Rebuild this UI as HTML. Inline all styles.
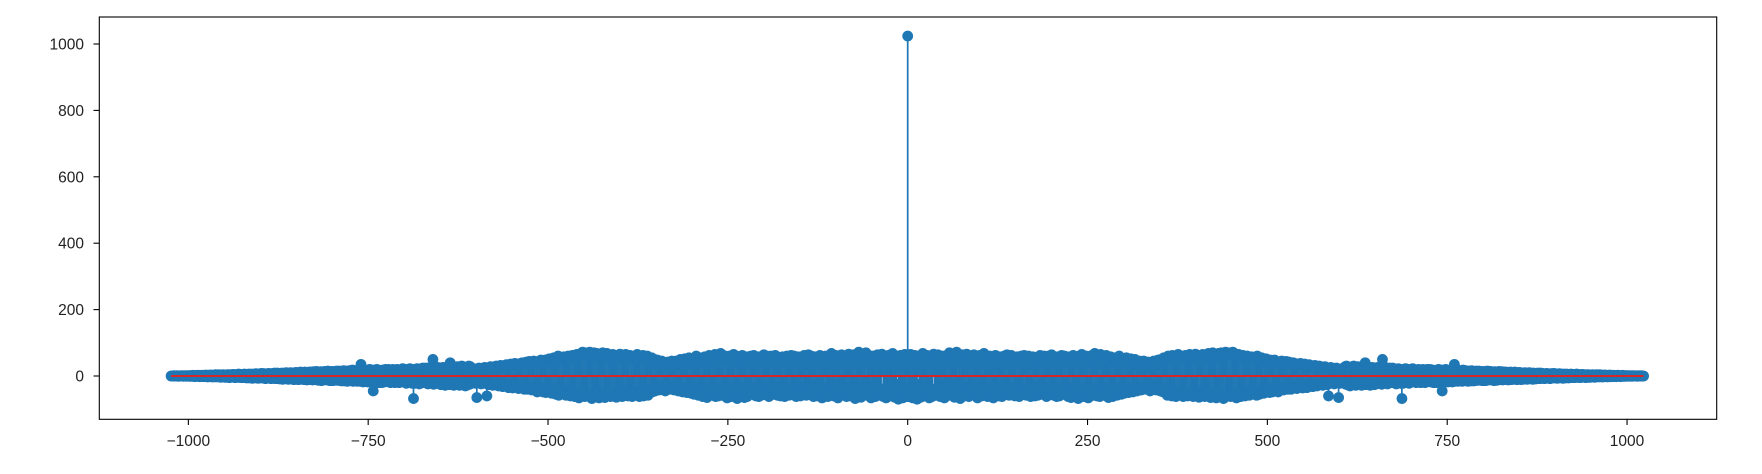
<!DOCTYPE html>
<html><head><meta charset="utf-8">
<style>
html,body{margin:0;padding:0;background:#fff;}
svg{display:block;font-family:"Liberation Sans","DejaVu Sans",sans-serif;}
</style></head>
<body>
<svg id="chart" width="1762" height="474" viewBox="0 0 1762 474" xmlns="http://www.w3.org/2000/svg">
<rect x="0" y="0" width="1762" height="474" fill="#fff"/>
<g id="stems"></g>
<g id="markers"></g>
<g id="baseline-g"></g>
<rect x="99.3" y="17" width="1617.4" height="402.3" fill="none" stroke="#000" stroke-width="1.1"/>
<g id="xaxis"></g>
<g id="yaxis"></g>
</svg>
<script>
// positive-side magnitudes k = 0..1023 (spectrum is mirrored for negative k)
const posValues = [
1024,-62,58,-40,65,-55,30,-66,48,-20,62,-58,45,-70,25,60,-35,55,-64,40,-50,68,-30,52,-60,35,-45,62,-25,58,-66,40,
-55,48,-62,30,66,-40,55,-58,20,-50,64,-35,58,-62,42,-28,60,-50,36,-66,52,-44,62,-30,48,-58,70,-40,56,-22,60,-52,
38,-64,55,-45,72,-30,60,-55,42,-68,50,-25,64,-48,35,-60,58,-40,66,-52,30,-62,45,-36,60,-55,48,-30,64,-50,40,-58,
52,-66,35,-48,62,-28,55,-60,40,-52,68,-35,58,-45,30,-62,50,-40,60,-55,25,-58,48,-66,36,-50,62,-30,55,-45,40,-60,
58,-35,50,-62,42,-28,60,-48,36,-55,64,-40,52,-58,30,-50,62,-42,55,-35,48,-60,40,-52,58,-30,45,-62,50,-38,60,-45,
35,-55,62,-40,48,-58,30,-50,60,-45,38,-62,52,-35,58,-48,42,-60,55,-30,50,-58,36,-45,62,-52,40,-55,48,-38,60,-50,
45,-62,38,-55,60,-42,52,-30,64,-50,40,-58,55,-35,48,-62,58,-45,35,-60,50,-40,62,-55,42,-48,60,-36,55,-50,45,-62,
58,-40,50,-65,42,-55,62,-35,48,-60,55,-45,38,-68,60,-50,45,-58,65,-40,52,-62,36,-55,60,-48,42,-66,58,-35,50,-60,
62,-45,55,-38,68,-52,40,-60,58,-48,35,-62,65,-42,50,-58,60,-36,48,-55,62,-40,52,-65,45,-50,58,-38,55,-62,42,-48,
55,-40,48,-58,35,-50,60,-45,38,-55,50,-30,45,-52,40,-48,55,-35,42,-50,30,-45,52,-38,40,-48,35,-42,50,-30,38,-45,
30,-40,45,-35,28,-42,38,-30,45,-36,25,-40,35,-28,42,-38,30,-45,36,-32,40,-28,45,-35,38,-42,30,-36,48,-40,35,-45,
50,-38,42,-48,55,-40,48,-52,45,-58,60,-42,52,-55,48,-60,62,-45,55,-50,58,-62,48,-55,65,-50,58,-48,60,-55,52,-62,
58,-50,62,-55,48,-60,55,-52,65,-45,58,-60,50,-62,55,-48,66,-55,60,-50,58,-64,52,-58,62,-48,65,-55,58,-62,50,-60,
62,-55,68,-50,60,-65,55,-58,70,-52,62,-60,55,-66,65,-50,68,-62,58,-55,70,-60,62,-68,55,-58,72,-62,65,-55,68,-60,
70,-62,65,-58,72,-60,68,-55,62,-66,58,-60,65,-52,60,-62,55,-58,62,-50,58,-60,52,-55,60,-48,55,-58,50,-52,58,-45,
55,-50,52,-55,48,-58,60,-45,52,-55,48,-50,55,-42,50,-52,45,-48,52,-40,50,-45,42,-50,48,-38,45,-48,40,-42,48,-36,
45,-42,40,-48,38,-44,42,-35,45,-40,36,-42,40,-32,44,-38,35,-40,42,-30,38,-40,35,-36,40,-28,38,-35,32,-38,36,-30,
35,-32,38,-30,34,-36,30,-34,36,-28,32,-35,30,-30,34,-26,32,-30,28,-32,30,-25,32,-28,26,-30,28,-24,30,-26,28,-25,
26,-28,24,-26,28,-22,25,-26,22,-60,24,-22,26,-20,24,-22,20,-24,22,-18,24,-20,22,-65,20,-22,18,-20,22,-18,20,-22,
28,-25,30,-22,26,-28,24,-30,22,-26,28,-24,30,-20,26,-28,24,-22,28,-26,20,-24,26,-28,22,-25,28,-20,40,-26,24,-22,
26,-24,22,-28,25,-20,26,-24,22,-26,20,-24,25,-22,26,-20,24,-22,20,-25,50,-22,24,-20,26,-22,20,-24,22,-18,24,-20,
22,-20,24,-18,22,-20,18,-24,20,-18,22,-20,18,-22,20,-68,18,-22,20,-18,22,-20,18,-16,20,-22,18,-16,20,-18,22,-16,
20,-18,16,-20,18,-16,20,-18,16,-20,18,-15,20,-16,18,-20,15,-18,20,-16,18,-15,20,-18,16,-15,18,-20,16,-18,15,-20,
18,-16,20,-15,18,-18,16,-45,18,-15,16,-18,20,-16,15,-18,16,-14,18,-16,15,-18,16,-14,35,-16,15,-14,18,-16,14,-15,
16,-14,15,-16,18,-14,15,-13,16,-15,14,-16,15,-13,14,-15,16,-12,14,-15,13,-14,15,-12,14,-13,15,-12,14,-13,12,-14,
14,-12,13,-14,12,-13,15,-12,13,-11,14,-12,13,-11,12,-14,13,-11,12,-13,11,-12,14,-11,12,-10,13,-12,11,-10,12,-11,
12,-11,10,-12,11,-10,12,-11,10,-9,11,-10,12,-9,10,-11,9,-10,11,-9,10,-11,9,-10,8,-9,10,-8,9,-10,8,-9,
10,-8,9,-9,8,-10,9,-8,7,-9,8,-7,9,-8,7,-8,9,-7,8,-6,7,-8,6,-7,8,-6,7,-7,6,-8,7,-6,
7,-6,8,-6,7,-5,6,-7,5,-6,7,-5,6,-6,5,-7,6,-5,5,-6,6,-5,4,-6,5,-5,6,-4,5,-5,4,-5,
5,-4,6,-4,5,-4,4,-5,4,-4,5,-3,4,-4,3,-5,4,-3,4,-4,3,-4,3,-3,4,-3,3,-4,3,-3,4,-2,
3,-3,4,-2,3,-3,2,-3,3,-2,3,-2,2,-3,2,-2,3,-2,2,-2,2,-1,2,-2,1,-2,2,-1,2,-1,1,-2,
1,-1,2,-1,1,-1,1,-1,1,0,1,-1,0,1,0,-1,1,0,0,1,0,0,-1,0,1,0,0,0,1,0,0,0
];
const xTicks = [-1000,-750,-500,-250,0,250,500,750,1000];
const xTickLabels = ["\u22121000","\u2212750","\u2212500","\u2212250","0","250","500","750","1000"];
const yTicks = [0,200,400,600,800,1000];
const yTickLabels = ["0","200","400","600","800","1000"];

// build full series from -1024..1023
const xs = [], ys = [];
for (let k = -1024; k <= 1023; k++) {
  xs.push(k);
  const a = Math.abs(k);
  ys.push(a <= 1023 ? posValues[a] : 0);
}

const X0 = 907.7, XS = 0.71935;   // px per unit
const Y0 = 376, YS = 0.332;
const sx = v => X0 + v * XS;
const sy = v => Y0 - v * YS;
const NS = "http://www.w3.org/2000/svg";
const mk = (tag, attrs, parent) => { const e = document.createElementNS(NS, tag); for (const k in attrs) e.setAttribute(k, attrs[k]); parent.appendChild(e); return e; };

const stems = document.getElementById('stems');
const markers = document.getElementById('markers');
const C = '#1f77b4';
for (let i = 0; i < xs.length; i++) {
  const l = mk('line', {x1: sx(xs[i]), x2: sx(xs[i]), y1: sy(0), y2: sy(ys[i]), stroke: C, 'stroke-width': 1.7}, stems);
  
  
}
for (let i = 0; i < xs.length; i++) {
  const c = mk('circle', {cx: sx(xs[i]), cy: sy(ys[i]), r: 5.4, fill: C}, markers);
  
  
}
const bg = document.getElementById('baseline-g');
const bl = mk('line', {x1: sx(xs[0]), x2: sx(xs[xs.length - 1]), y1: sy(0), y2: sy(0), stroke: '#d62728', 'stroke-width': 2}, bg);



const xa = document.getElementById('xaxis');
xTicks.forEach((v, i) => {
  const t = mk('line', {x1: sx(v), x2: sx(v), y1: 419.3, y2: 425, stroke: '#000', 'stroke-width': 1.1}, xa);
  
  
  const tx = mk('text', {x: sx(v), y: 446, 'text-anchor': 'middle', 'font-size': 15.5, fill: '#222'}, xa);
  tx.textContent = xTickLabels[i];
  
  
});
const ya = document.getElementById('yaxis');
yTicks.forEach((v, i) => {
  const t = mk('line', {x1: 93.5, x2: 99.3, y1: sy(v), y2: sy(v), stroke: '#000', 'stroke-width': 1.1}, ya);
  
  
  const tx = mk('text', {x: 84, y: sy(v) + 5.5, 'text-anchor': 'end', 'font-size': 15.5, fill: '#222'}, ya);
  tx.textContent = yTickLabels[i];
  
  
});
</script>
</body></html>
